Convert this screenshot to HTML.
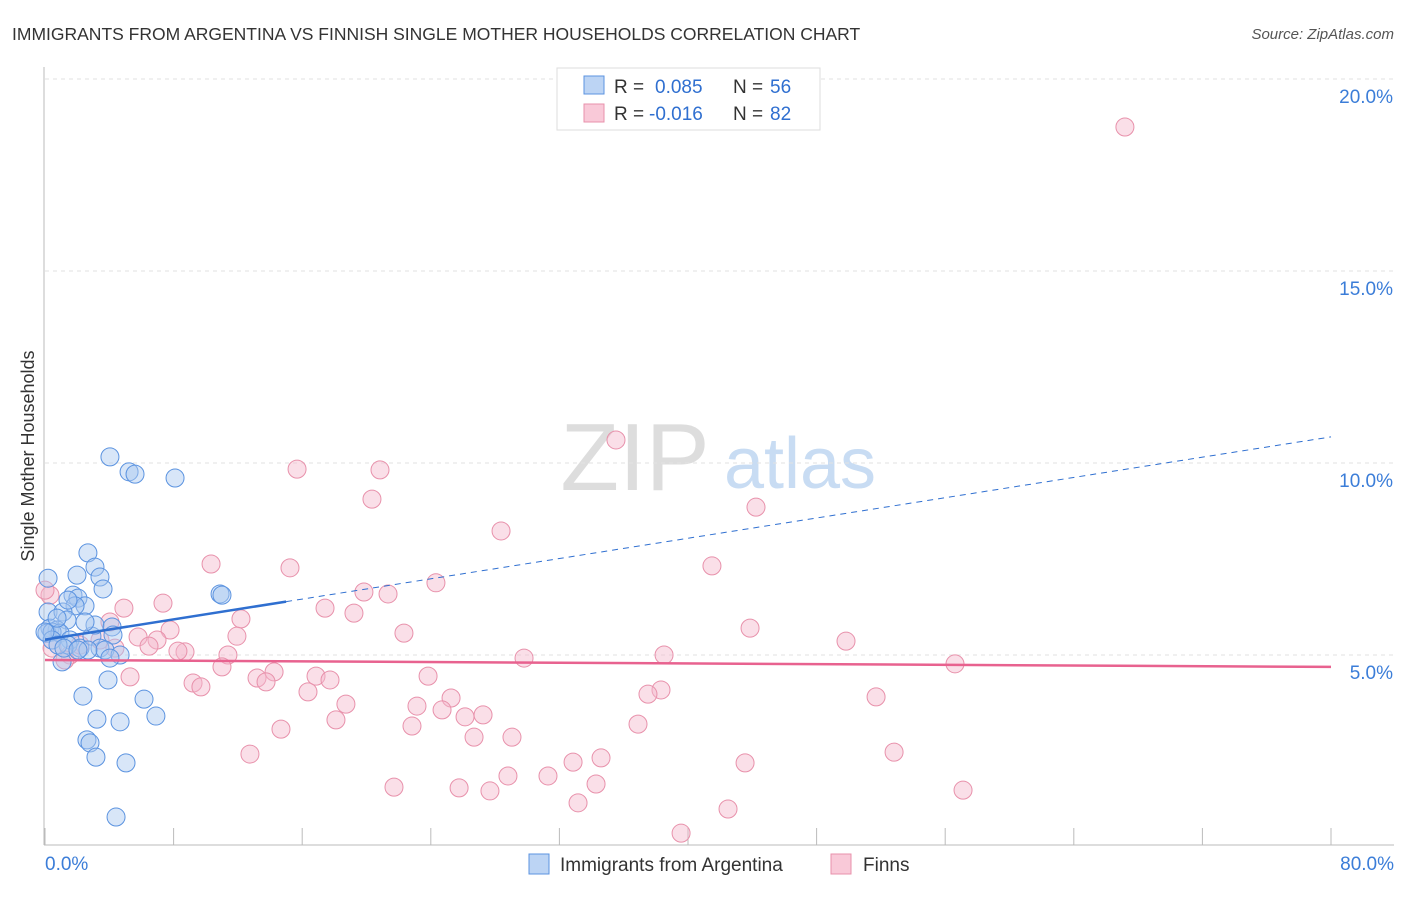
<!DOCTYPE html>
<html><head><meta charset="utf-8"><style>
body{margin:0;background:#fff;font-family:"Liberation Sans",sans-serif;}
svg text{font-family:"Liberation Sans",sans-serif;}
</style></head><body>
<svg width="1406" height="892" xmlns="http://www.w3.org/2000/svg">
<text x="12" y="40" font-size="17.5" fill="#333">IMMIGRANTS FROM ARGENTINA VS FINNISH SINGLE MOTHER HOUSEHOLDS CORRELATION CHART</text>
<text x="1394" y="39" font-size="15" fill="#555" font-style="italic" text-anchor="end">Source: ZipAtlas.com</text>
<g><text x="635" y="490" font-size="96" font-family="Liberation Serif" fill="#ddd" text-anchor="middle">ZIP</text><text x="800" y="488" font-size="72" fill="#c8dcf3" text-anchor="middle">atlas</text></g>
<g id="grid"></g>
<g id="axes"></g>
<g id="marks"></g>
<text transform="translate(34,456) rotate(-90)" font-size="18" fill="#333" text-anchor="middle">Single Mother Households</text>
<g>
<rect x="557" y="68" width="263" height="62" fill="#fff" stroke="#ddd"/>
<rect x="584" y="76" width="20" height="18" fill="#bcd4f4" stroke="#5b93e0"/>
<text x="614" y="93" font-size="19" fill="#333">R =</text>
<text x="655" y="93" font-size="19" fill="#2f6fd0">0.085</text>
<text x="733" y="93" font-size="19" fill="#333">N =</text>
<text x="770" y="93" font-size="19" fill="#2f6fd0">56</text>
<rect x="584" y="104" width="20" height="18" fill="#f9c9d8" stroke="#e891ab"/>
<text x="614" y="120" font-size="19" fill="#333">R =</text>
<text x="649" y="120" font-size="19" fill="#2f6fd0">-0.016</text>
<text x="733" y="120" font-size="19" fill="#333">N =</text>
<text x="770" y="120" font-size="19" fill="#2f6fd0">82</text>
</g>
<g>
<rect x="529" y="854" width="20" height="20" fill="#bcd4f4" stroke="#5b93e0"/>
<text x="560" y="871" font-size="19" fill="#333">Immigrants from Argentina</text>
<rect x="831" y="854" width="20" height="20" fill="#f9c9d8" stroke="#e891ab"/>
<text x="863" y="871" font-size="19" fill="#333">Finns</text>
</g>
</svg>
<script>
const blueX=[4.04,5.23,5.6,8.09,2.67,0.19,1.99,3.11,3.42,3.61,1.74,2.05,2.49,1.87,0.19,1.12,1.37,0.31,0.75,0.12,0.44,0.93,1.56,1.43,2.18,2.92,3.11,4.17,4.23,3.42,3.73,4.67,4.04,1.06,10.89,11.01,3.92,2.36,6.16,3.23,6.9,4.67,2.61,2.8,3.17,5.04,4.42,0.44,0.81,2.67,1.18,0,2.49,1.43,2.05,0.75];
const blueY=[10.16,9.77,9.71,9.61,7.66,7.0,7.08,7.29,7.03,6.72,6.56,6.48,6.28,6.28,6.12,6.12,5.91,5.7,5.65,5.57,5.6,5.57,5.39,5.26,5.18,5.49,5.78,5.73,5.52,5.18,5.13,5.0,4.92,4.82,6.59,6.56,4.35,3.93,3.85,3.33,3.41,3.26,2.79,2.71,2.34,2.19,0.78,5.39,5.26,5.13,5.18,5.6,5.86,6.43,5.13,5.96];
const pinkX=[67.18,35.52,15.68,20.84,20.34,28.37,44.23,10.33,15.24,41.49,24.32,19.84,21.34,7.34,4.91,17.42,19.22,12.19,43.86,7.78,22.33,11.94,5.79,6.97,6.47,49.83,8.71,8.27,11.38,29.8,38.51,56.61,11.01,14.25,13.19,13.75,16.86,17.73,23.83,5.29,9.21,9.7,16.36,25.26,18.72,23.14,38.32,37.51,51.7,24.7,26.13,27.25,18.1,14.68,22.83,36.89,26.69,29.05,52.82,12.75,34.59,32.85,43.55,28.8,31.29,21.71,25.76,27.68,34.28,57.11,33.16,42.49,39.57,0.44,1.56,1.24,0.31,3.42,4.35,2.18,4.04,0];
const pinkY=[18.75,10.6,9.84,9.82,9.06,8.23,8.85,7.37,7.27,7.32,6.88,6.64,6.59,6.35,6.22,6.22,6.09,5.94,5.7,5.65,5.57,5.49,5.47,5.39,5.23,5.36,5.08,5.1,5.0,4.92,5.0,4.77,4.69,4.56,4.4,4.3,4.45,4.35,4.45,4.43,4.27,4.17,4.04,3.88,3.72,3.67,4.09,3.98,3.91,3.57,3.39,3.44,3.31,3.07,3.15,3.2,2.86,2.86,2.47,2.42,2.32,2.21,2.19,1.85,1.85,1.56,1.54,1.46,1.64,1.48,1.15,0.99,0.36,5.18,5.0,4.87,6.56,5.39,5.18,5.26,5.86,6.69];
const yTicks=[5,10,15,20];
const xTicks=[0,8,16,24,32,40,48,56,64,72,80];
const blueTrend=[5.4,0.066];
const pinkTrend=[4.87,-0.00225];
const NS="http://www.w3.org/2000/svg";
const X0=45,X1=1331,Y0=847;
const sx=v=>X0+(v/80)*(X1-X0);
const sy=v=>Y0-v*38.4;
function mk(tag,attrs,parent){const e=document.createElementNS(NS,tag);for(const k in attrs)e.setAttribute(k,attrs[k]);document.getElementById(parent).appendChild(e);return e;}
yTicks.forEach(t=>{
 const l=mk('line',{x1:X0,x2:1394,y1:sy(t),y2:sy(t),stroke:'#e2e2e2','stroke-dasharray':'4,4'},'grid');
 
 
 const tx=mk('text',{x:1393,y:sy(t)+24,'font-size':19,fill:'#3b7dd8','text-anchor':'end'},'grid');
 tx.textContent=t.toFixed(1)+'%';
 
 
});
const ax=mk('line',{x1:44,x2:44,y1:67,y2:845,stroke:'#bbb'},'axes');


const bx=mk('line',{x1:44,x2:1394,y1:845,y2:845,stroke:'#bbb'},'axes');


xTicks.forEach(t=>{
 const l=mk('line',{x1:sx(t),x2:sx(t),y1:828,y2:845,stroke:'#bbb'},'axes');
 
 
});
[[0,'start',45],[80,'end',1394]].forEach(([t,a,x])=>{
 const tx=mk('text',{x:x,y:870,'font-size':19,fill:'#3b7dd8','text-anchor':a},'axes');
 tx.textContent=t.toFixed(1)+'%';
 
 
});
pinkX.forEach((x,i)=>{
 const c=mk('circle',{cx:sx(x),cy:sy(pinkY[i]),r:9,fill:'#f5b8cb','fill-opacity':0.45,stroke:'#e891ab','stroke-width':1},'marks');
 
 
});
blueX.forEach((x,i)=>{
 const c=mk('circle',{cx:sx(x),cy:sy(blueY[i]),r:9,fill:'#a9c8f0','fill-opacity':0.45,stroke:'#5b93e0','stroke-width':1},'marks');
 
 
});
const pt=mk('line',{x1:sx(0),x2:sx(80),y1:sy(pinkTrend[0]),y2:sy(pinkTrend[0]+80*pinkTrend[1]),stroke:'#e8628f','stroke-width':2.5},'marks');


const bt=mk('line',{x1:sx(0),x2:sx(15),y1:sy(blueTrend[0]),y2:sy(blueTrend[0]+15*blueTrend[1]),stroke:'#2f6fd0','stroke-width':2.5},'marks');


const bd=mk('line',{x1:sx(15),x2:sx(80),y1:sy(blueTrend[0]+15*blueTrend[1]),y2:sy(blueTrend[0]+80*blueTrend[1]),stroke:'#2f6fd0','stroke-width':1,'stroke-dasharray':'6,5'},'marks');


</script>
</body></html>
